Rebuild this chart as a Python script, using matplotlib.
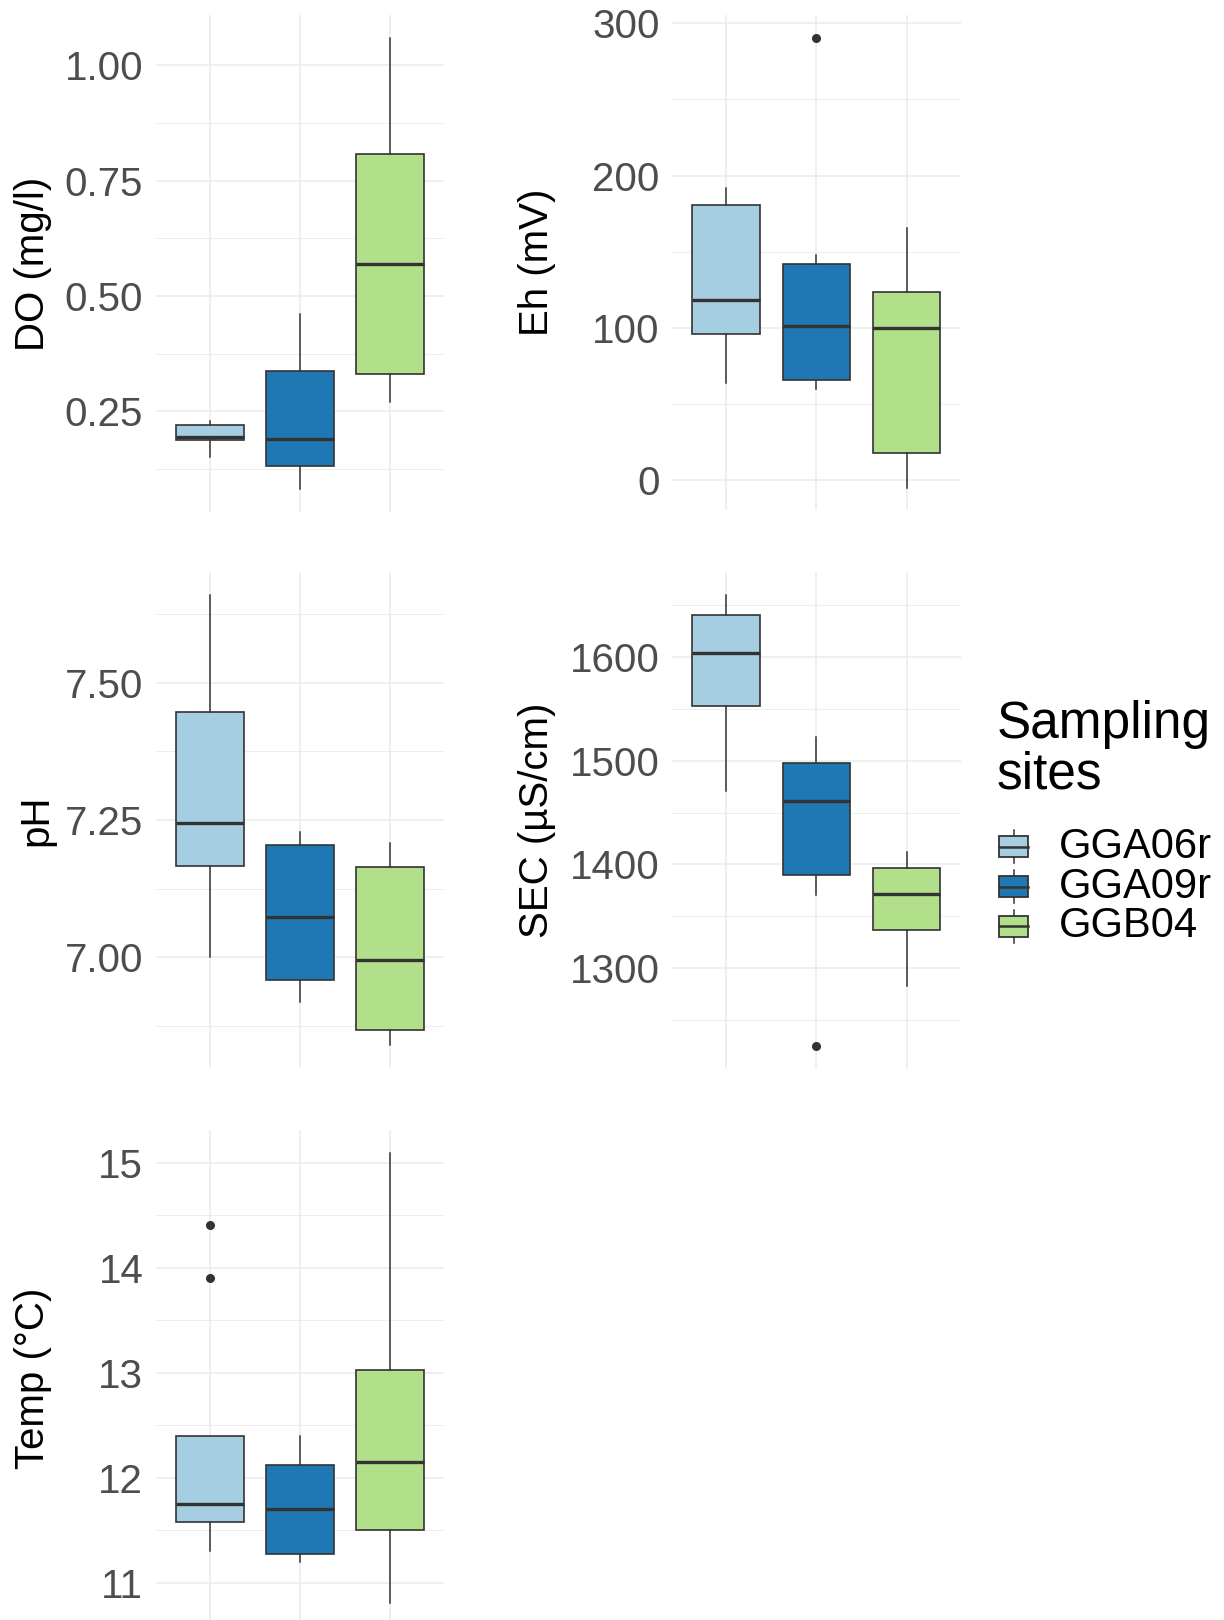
import numpy as np
import matplotlib.pyplot as plt
from matplotlib.patches import Rectangle

plt.rcParams['font.family'] = ['Liberation Sans', 'DejaVu Sans']

sites = ["GGA06r", "GGA09r", "GGB04"]
colors = ["#A6CEE3", "#1F78B4", "#B2DF8A"]

# per site: whisker low, q1, median, q3, whisker high
do_stats = [[0.151, 0.187, 0.194, 0.220, 0.229],
            [0.081, 0.132, 0.191, 0.337, 0.460],
            [0.271, 0.332, 0.570, 0.808, 1.060]]
do_out = [[], [], []]
eh_stats = [[63.5, 95.9, 118.2, 180.5, 192.1],
            [59.5, 65.6, 101.2, 142.0, 147.6],
            [-5.0, 17.7, 99.9, 123.2, 165.3]]
eh_out = [[], [290.7], []]
ph_stats = [[7.000, 7.167, 7.245, 7.447, 7.660],
            [6.919, 6.959, 7.074, 7.204, 7.229],
            [6.840, 6.869, 6.996, 7.165, 7.209]]
ph_out = [[], [], []]
sec_stats = [[1470.8, 1552.4, 1604.2, 1640.8, 1660.1],
             [1370.9, 1389.8, 1460.9, 1497.5, 1522.6],
             [1282.8, 1336.5, 1371.2, 1396.9, 1411.7]]
sec_out = [[], [1224.7], []]
temp_stats = [[11.302, 11.575, 11.749, 12.400, 12.400],
              [11.200, 11.277, 11.702, 12.121, 12.400],
              [10.804, 11.502, 12.155, 13.025, 15.096]]
temp_out = [[14.402, 13.904], [], []]

do_ticks = [0.25, 0.50, 0.75, 1.00]
eh_ticks = [0, 100, 200, 300]
ph_ticks = [7.00, 7.25, 7.50]
sec_ticks = [1300, 1400, 1500, 1600]
temp_ticks = [11, 12, 13, 14, 15]

W, H = 1224, 1620
fig = plt.figure(figsize=(W / 100, H / 100), dpi=100)

# (stats, outliers, label, ticks, fmt, left, top, width, height, label x)
panels = [
    (do_stats, do_out, "DO (mg/l)", do_ticks, "{:.2f}", 155.7, 15, 288.3, 497, -0.426),
    (eh_stats, eh_out, "Eh (mV)", eh_ticks, "{:.0f}", 672, 15, 288.7, 495, -0.468),
    (ph_stats, ph_out, "pH", ph_ticks, "{:.2f}", 155.7, 572, 288.3, 496, -0.415),
    (sec_stats, sec_out, "SEC (µS/cm)", sec_ticks, "{:.0f}", 672, 572, 288.7, 497, -0.468),
    (temp_stats, temp_out, "Temp (°C)", temp_ticks, "{:.0f}", 155.7, 1130, 288.3, 496, -0.426),
]

for stats, outs, lab, ticks, fmt, l, t, w, h, lx in panels:
    ax = fig.add_axes([l / W, 1 - (t + h) / H, w / W, h / H])
    bx = []
    for s, o in zip(stats, outs):
        bx.append(dict(whislo=s[0], q1=s[1], med=s[2], q3=s[3], whishi=s[4], fliers=o))
    res = ax.bxp(bx, positions=[1, 2, 3], widths=0.75, patch_artist=True, showcaps=False,
                 boxprops=dict(edgecolor='#333333', linewidth=1.2),
                 medianprops=dict(color='#333333', linewidth=2.4, solid_capstyle='butt'),
                 whiskerprops=dict(color='#333333', linewidth=1.1),
                 flierprops=dict(marker='o', markerfacecolor='#333333',
                                 markeredgecolor='#333333', markersize=5.5))
    for b, c in zip(res['boxes'], colors):
        b.set_facecolor(c)

    lo = min(min(s[0] for s in stats), min([v for o in outs for v in o] + [np.inf]))
    hi = max(max(s[4] for s in stats), max([v for o in outs for v in o] + [-np.inf]))
    pad = (hi - lo) * 0.05

    step = ticks[1] - ticks[0]
    minors = np.arange(ticks[0] - step / 2, ticks[-1] + step, step)
    ax.set_yticks(ticks)
    ax.set_yticklabels([fmt.format(v) for v in ticks])
    ax.set_yticks(minors, minor=True)
    ax.set_ylim(lo - pad, hi + pad)
    ax.set_xlim(0.4, 3.6)
    ax.set_xticks([1, 2, 3])
    ax.set_xticklabels([])
    ax.grid(which='major', color='#EBEBEB', linewidth=1.1)
    ax.grid(which='minor', axis='y', color='#EBEBEB', linewidth=0.6)
    ax.set_axisbelow(True)
    ax.tick_params(which='both', length=0, labelsize=29, labelcolor='#4D4D4D', pad=9)
    for sp in ax.spines.values():
        sp.set_visible(False)
    ax.set_ylabel(lab, fontsize=29, va='center')
    ax.yaxis.set_label_coords(lx, 0.5)

# legend drawn in figure pixels
lax = fig.add_axes([0, 0, 1, 1], zorder=-1)
lax.set_xlim(0, W)
lax.set_ylim(H, 0)
lax.axis('off')
lax.text(997, 700, "Sampling\nsites", fontsize=37, va='top', ha='left', linespacing=1.05)
key_y = [846.5, 886.5, 926]
for yk, c, s in zip(key_y, colors, sites):
    lax.plot([1013.5, 1013.5], [yk - 16.5, yk + 16.5], color='#333333', lw=1.1, zorder=1)
    lax.add_patch(Rectangle((999, yk - 10.5), 29, 21, facecolor=c, edgecolor='#333333',
                            lw=1.3, zorder=2))
    lax.plot([999, 1028], [yk, yk], color='#333333', lw=1.8, zorder=3)
    lax.text(1059, yk, s, fontsize=30, va='center', ha='left')

fig.savefig("out.png", dpi=100)
